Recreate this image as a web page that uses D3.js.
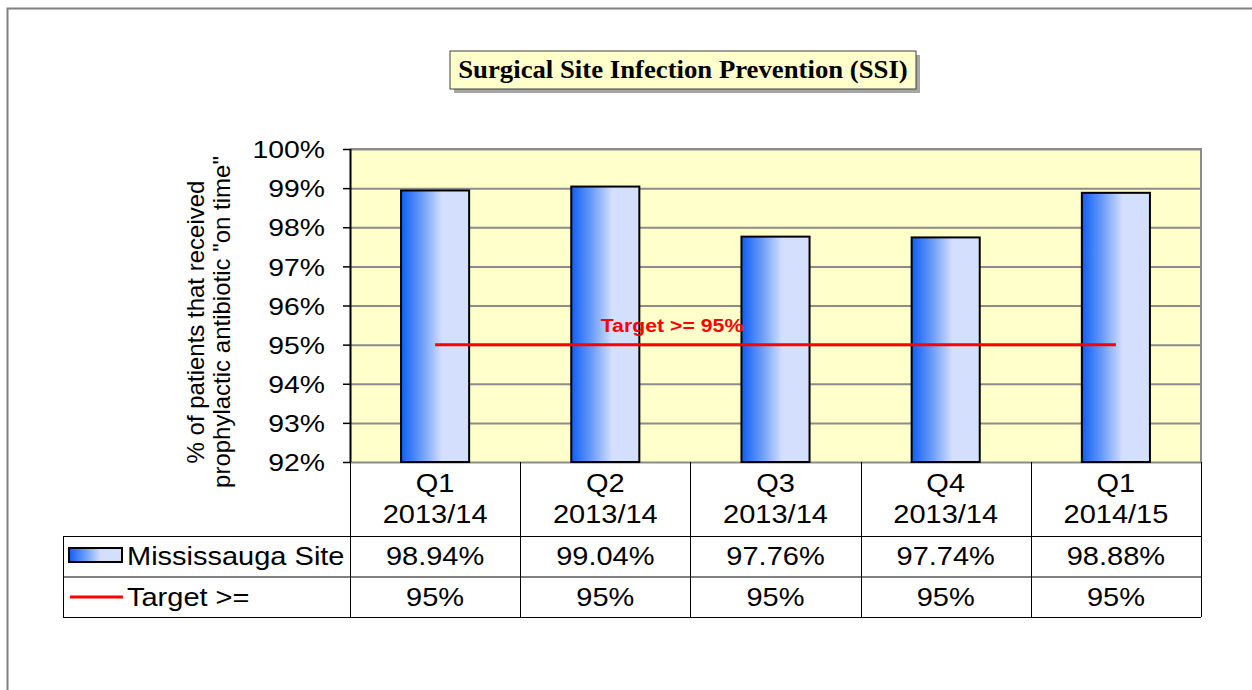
<!DOCTYPE html>
<html>
<head>
<meta charset="utf-8">
<script src="https://cdn.jsdelivr.net/npm/d3@7"></script>
<style>
  body { margin: 0; background: #fff; }
  svg text { font-family: Arial, "Liberation Sans", sans-serif; }
</style>
</head>
<body>
<div id="chart"></div>
<script>
// chart data
var categories = ["Q1|2013/14", "Q2|2013/14", "Q3|2013/14", "Q4|2013/14", "Q1|2014/15"];
var siteValues = [98.94, 99.04, 97.76, 97.74, 98.88];
var targetValues = [95, 95, 95, 95, 95];
var yTicks = [92, 93, 94, 95, 96, 97, 98, 99, 100];
var seriesNames = ["Mississauga Site", "Target >="];

var W = 1252, H = 690;
var plot = {left: 350, right: 1201, top: 149, bottom: 462};
var SX = 1.16; // the original text looks stretched sideways

var svg = d3.select("#chart").append("svg")
    .attr("width", W)
    .attr("height", H);

// text placed at x,y and stretched sideways
function stext(g, x0, y0, str, sx) {
    return g.append("text")
        .attr("transform", "translate(" + x0 + "," + y0 + ") scale(" + (sx || SX) + ",1)")
        .text(str);
}

var defs = svg.append("defs");
var grad = defs.append("linearGradient")
    .attr("id", "barGrad")
    .attr("x1", "0%").attr("x2", "100%").attr("y1", "0%").attr("y2", "0%");
grad.append("stop").attr("offset", "0%").attr("stop-color", "#0f5ef5");
grad.append("stop").attr("offset", "30%").attr("stop-color", "#6a9cf8");
grad.append("stop").attr("offset", "60%").attr("stop-color", "#d4dffd");
grad.append("stop").attr("offset", "100%").attr("stop-color", "#d4dffd");

// outer frame (cut at right and bottom)
svg.append("path")
    .attr("d", "M7.5," + H + "V8.5H" + W)
    .attr("fill", "none")
    .attr("stroke", "#808080")
    .attr("stroke-width", 2);

// scales
var x = d3.scaleBand()
    .domain(categories)
    .range([plot.left, plot.right]);
var y = d3.scaleLinear()
    .domain([92, 100])
    .range([plot.bottom, plot.top]);

// plot background
svg.append("rect")
    .attr("x", plot.left).attr("y", plot.top)
    .attr("width", plot.right - plot.left)
    .attr("height", plot.bottom - plot.top)
    .attr("fill", "#ffffcc");

// gridlines
svg.append("g")
    .attr("class", "gridline")
    .attr("transform", "translate(" + plot.left + ",0)")
    .call(d3.axisLeft(y).tickValues(yTicks).tickSize(-(plot.right - plot.left)).tickFormat(""))
    .call(function(g) {
        g.select(".domain").remove();
        g.selectAll("line").attr("stroke", "#8c8c8c").attr("stroke-width", 2);
    });

// plot border top/right
svg.append("path")
    .attr("d", "M" + plot.left + "," + plot.top + "H" + plot.right + "V" + plot.bottom)
    .attr("fill", "none")
    .attr("stroke", "#8c8c8c")
    .attr("stroke-width", 2);

// bars
var bw = x.bandwidth() * 0.4;
svg.append("g").selectAll("rect")
    .data(siteValues)
    .join("rect")
    .attr("x", function(d, i) { return x(categories[i]) + x.bandwidth() / 2 - bw / 2; })
    .attr("y", function(d) { return y(d); })
    .attr("width", bw)
    .attr("height", function(d) { return y(92) - y(d); })
    .attr("fill", "url(#barGrad)")
    .attr("stroke", "#000")
    .attr("stroke-width", 2);

// target line
var line = d3.line()
    .x(function(d, i) { return x(categories[i]) + x.bandwidth() / 2; })
    .y(function(d) { return y(d); });
svg.append("path")
    .datum(targetValues)
    .attr("d", line)
    .attr("fill", "none")
    .attr("stroke", "#ff0000")
    .attr("stroke-width", 3);

stext(svg, 672, y(95) - 13, "Target >= 95%", 1.12)
    .attr("text-anchor", "middle")
    .style("font-size", "19px")
    .style("font-weight", "bold")
    .attr("fill", "#ff0000");

// y axis
var yAxis = svg.append("g")
    .attr("transform", "translate(" + plot.left + ",0)")
    .call(d3.axisLeft(y).tickValues(yTicks).tickSize(7).tickPadding(4)
        .tickFormat(function(d) { return d + "%"; }));
yAxis.select(".domain").attr("stroke", "#000").attr("stroke-width", 2)
    .attr("d", "M0.5," + plot.top + "V" + plot.bottom);
yAxis.selectAll(".tick line").attr("stroke", "#000").attr("stroke-width", 1.5);
yAxis.selectAll(".tick text")
    .style("font-size", "24px")
    .attr("fill", "#000")
    .attr("dy", "0.36em")
    .attr("x", 0)
    .attr("transform", "translate(-25,0) scale(1.18,1)");

// y axis title
var yTitle = svg.append("text")
    .attr("transform", "translate(210,322) rotate(-90)")
    .attr("text-anchor", "middle")
    .style("font-size", "24px")
    .attr("fill", "#000");
yTitle.append("tspan").attr("x", 0).attr("dy", "-0.25em").text("% of patients that received");
yTitle.append("tspan").attr("x", 0).attr("dy", "1.08em").text("prophylactic antibiotic \"on time\"");

// title box
var tb = {x: 450, y: 51, w: 466, h: 38};
svg.append("rect")
    .attr("x", tb.x + 4).attr("y", tb.y + 4)
    .attr("width", tb.w).attr("height", tb.h)
    .attr("fill", "#a6a6a6");
svg.append("rect")
    .attr("x", tb.x).attr("y", tb.y)
    .attr("width", tb.w).attr("height", tb.h)
    .attr("fill", "#ffffcc")
    .attr("stroke", "#404040")
    .attr("stroke-width", 1);
stext(svg, tb.x + tb.w / 2, tb.y + 27, "Surgical Site Infection Prevention (SSI)", 1.07)
    .attr("text-anchor", "middle")
    .style("font-family", "'Liberation Serif', 'Times New Roman', serif")
    .style("font-size", "25px")
    .style("font-weight", "bold")
    .attr("fill", "#000");

// data table
var rows = {headTop: plot.bottom, r1: 536, r2: 576.5, bottom: 617};
var legendLeft = 63;
var tbl = svg.append("g").attr("stroke", "#000").attr("stroke-width", 1);
// horizontal lines
tbl.append("line").attr("x1", legendLeft).attr("x2", plot.right).attr("y1", rows.r1 + 0.5).attr("y2", rows.r1 + 0.5);
tbl.append("line").attr("x1", legendLeft).attr("x2", plot.right).attr("y1", rows.r2 + 0.5).attr("y2", rows.r2 + 0.5);
tbl.append("line").attr("x1", legendLeft).attr("x2", plot.right).attr("y1", rows.bottom + 0.5).attr("y2", rows.bottom + 0.5);
tbl.append("line").attr("x1", legendLeft + 0.5).attr("x2", legendLeft + 0.5).attr("y1", rows.r1).attr("y2", rows.bottom);
// vertical category separators
var bounds = categories.map(function(c) { return x(c); }).concat([plot.right]);
tbl.selectAll("line.sep")
    .data(bounds)
    .join("line")
    .attr("class", "sep")
    .attr("x1", function(d) { return Math.round(d) + 0.5; })
    .attr("x2", function(d) { return Math.round(d) + 0.5; })
    .attr("y1", rows.headTop)
    .attr("y2", rows.bottom);

var cx = function(i) { return x(categories[i]) + x.bandwidth() / 2; };
var txt = svg.append("g").style("font-size", "25px").attr("fill", "#000").attr("text-anchor", "middle");
categories.forEach(function(c, i) {
    var parts = c.split("|");
    stext(txt, cx(i), 492, parts[0]);
    stext(txt, cx(i), 523, parts[1]);
    stext(txt, cx(i), 565, siteValues[i].toFixed(2) + "%");
    stext(txt, cx(i), 606, targetValues[i] + "%");
});

// legend keys in table
svg.append("rect")
    .attr("x", 69).attr("y", 548)
    .attr("width", 53).attr("height", 14)
    .attr("fill", "url(#barGrad)")
    .attr("stroke", "#000")
    .attr("stroke-width", 2);
svg.append("line")
    .attr("x1", 70).attr("x2", 123)
    .attr("y1", 597).attr("y2", 597)
    .attr("stroke", "#ff0000")
    .attr("stroke-width", 3);
var lg = svg.append("g").style("font-size", "25px").attr("fill", "#000");
stext(lg, 127, 565, seriesNames[0]);
stext(lg, 127, 606, seriesNames[1]);
</script>
</body>
</html>
